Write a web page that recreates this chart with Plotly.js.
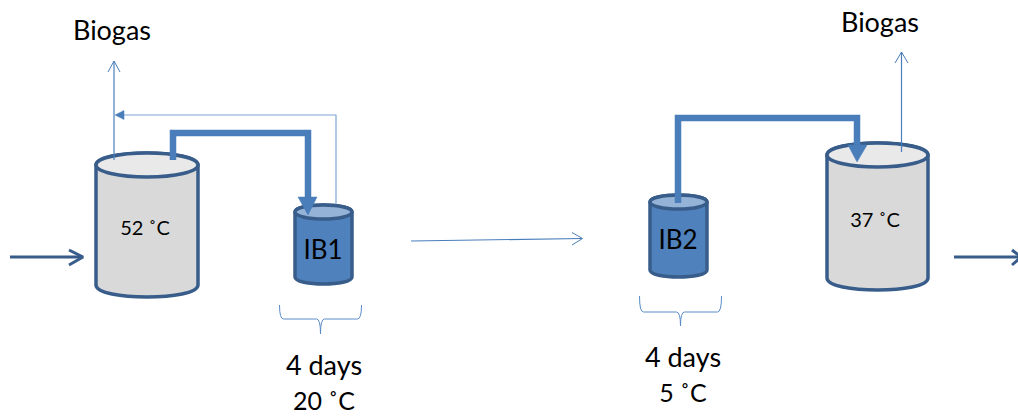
<!DOCTYPE html>
<html>
<head>
<meta charset="utf-8">
<script src="https://cdn.plot.ly/plotly-3.0.1.min.js"></script>
<style>html,body{margin:0;padding:0;background:#fff;overflow:hidden}</style>
</head>
<body>
<div id="chart" style="width:1018px;height:418px"></div>
<script>
// Tanks: left, right, top-ellipse centre y, side bottom y, ellipse radius y
const tankLeft   = [96, 295, 650, 827];
const tankRight  = [198, 352, 707, 928];
const tankTop    = [165, 212, 202, 155];
const tankBottom = [285, 277, 270, 278];
const tankRy     = [12, 7, 7, 12];
const tankBody   = ['#D9D9D9', '#4F81BD', '#4F81BD', '#D9D9D9'];
const tankLid    = ['#E9E9E9', '#95B3D7', '#95B3D7', '#E9E9E9'];

// Thick pipes
const pipe1X = [173, 173, 308, 308];
const pipe1Y = [160, 133, 133, 198];
const pipe2X = [678, 678, 857, 857];
const pipe2Y = [203, 118, 118, 146];
const head1X = [298, 317, 308, 298];
const head1Y = [197, 197, 215, 197];
const head2X = [848, 867, 857, 848];
const head2Y = [145, 145, 162, 145];

// Thin lines
const gas1X = [114, 114], gas1Y = [160, 61];
const gas1HeadX = [108, 114, 120], gas1HeadY = [72, 61, 72];
const gas2X = [901.5, 901.5], gas2Y = [152, 52];
const gas2HeadX = [895, 901.5, 908], gas2HeadY = [63, 52, 63];
const returnX = [336, 336, 117], returnY = [204, 115, 115];
const returnHeadX = [115, 124, 124, 115], returnHeadY = [115, 110.5, 119.5, 115];
const midX = [411, 582], midY = [241, 238.5];
const midHeadX = [572, 582.5, 572], midHeadY = [232.5, 238.5, 245];

// In / out arrows
const inX = [10, 82], inY = [257, 257];
const inHeadX = [69, 83, 69], inHeadY = [250, 257, 265];
const outX = [954, 1018], outY = [257, 257];
const outHeadX = [1012, 1021, 1012], outHeadY = [250, 257, 265];

// Braces: left, right, arm top y, bar y, tip y
const braceLeft  = [279.5, 639.5];
const braceRight = [361.5, 721.5];
const braceTop   = [305, 296];
const braceBar   = [319, 312];
const braceTip   = [334, 326];

// Labels
const labelText = ['Biogas', 'Biogas', '52 ˚C', '37 ˚C', 'IB1', 'IB2', '4 days', '20 ˚C', '4 days', '5 ˚C'];
const labelX    = [112, 880, 145, 875, 323, 678, 324, 324, 683, 683];
const labelY    = [33, 25, 230, 222, 252, 242, 368, 404, 360, 396];
const labelSize = [27, 27, 20, 20, 26, 26, 27, 25, 27, 25];

const OUTLINE = '#385D8A', PIPE = '#4A7EBB', PALE = '#7FA6D6';

const shapes = [];
tankLeft.forEach((l, i) => {
  const r = tankRight[i], t = tankTop[i], b = tankBottom[i], ry = tankRy[i], k = ry * 4 / 3;
  shapes.push({
    type: 'path', layer: 'below', fillcolor: tankBody[i], line: {color: OUTLINE, width: 3.5},
    path: `M ${l} ${t} C ${l} ${t - k} ${r} ${t - k} ${r} ${t} L ${r} ${b} C ${r} ${b + k} ${l} ${b + k} ${l} ${b} Z`
  });
  shapes.push({
    type: 'circle', layer: 'below', xref: 'x', yref: 'y', fillcolor: tankLid[i],
    line: {color: OUTLINE, width: 3.5}, x0: l, x1: r, y0: t - ry, y1: t + ry
  });
});
braceLeft.forEach((l, i) => {
  const r = braceRight[i], t = braceTop[i], m = braceBar[i], p = braceTip[i], c = (l + r) / 2;
  shapes.push({
    type: 'path', layer: 'above', line: {color: '#5B8CC8', width: 1},
    path: `M ${l} ${t} Q ${l} ${m} ${l + 4} ${m} L ${c - 4} ${m} Q ${c} ${m} ${c} ${p} Q ${c} ${m} ${c + 4} ${m} L ${r - 4} ${m} Q ${r} ${m} ${r} ${t}`
  });
});

function line(x, y, color, width) {
  return {x, y, type: 'scatter', mode: 'lines', line: {color, width}, hoverinfo: 'skip', showlegend: false, cliponaxis: false};
}
function solid(x, y, color) {
  return {x, y, type: 'scatter', mode: 'lines', fill: 'toself', fillcolor: color, line: {color, width: 0.5}, hoverinfo: 'skip', showlegend: false};
}

const traces = [
  line(gas1X, gas1Y, PIPE, 1.2), line(gas1HeadX, gas1HeadY, PIPE, 1),
  line(gas2X, gas2Y, PIPE, 1.2), line(gas2HeadX, gas2HeadY, PIPE, 1),
  line(returnX, returnY, PALE, 1.2), solid(returnHeadX, returnHeadY, PIPE),
  line(midX, midY, PIPE, 1.1), line(midHeadX, midHeadY, PIPE, 1),
  line(pipe1X, pipe1Y, PIPE, 6.5), solid(head1X, head1Y, PIPE),
  line(pipe2X, pipe2Y, PIPE, 6.5), solid(head2X, head2Y, PIPE),
  line(inX, inY, OUTLINE, 3), line(inHeadX, inHeadY, OUTLINE, 3),
  line(outX, outY, OUTLINE, 3), line(outHeadX, outHeadY, OUTLINE, 3),
  {x: labelX, y: labelY, text: labelText, type: 'scatter', mode: 'text', textposition: 'middle center',
   textfont: {family: 'Lato, "Open Sans", sans-serif', size: labelSize, color: '#000'},
   hoverinfo: 'skip', showlegend: false, cliponaxis: false}
];

const layout = {
  width: 1018, height: 418, autosize: false,
  margin: {l: 0, r: 0, t: 0, b: 0, pad: 0},
  paper_bgcolor: '#fff', plot_bgcolor: '#fff', showlegend: false,
  xaxis: {range: [0, 1018], visible: false, fixedrange: true},
  yaxis: {range: [418, 0], visible: false, fixedrange: true},
  shapes
};
Plotly.newPlot('chart', traces, layout, {displayModeBar: false, staticPlot: true});
</script>
</body>
</html>
